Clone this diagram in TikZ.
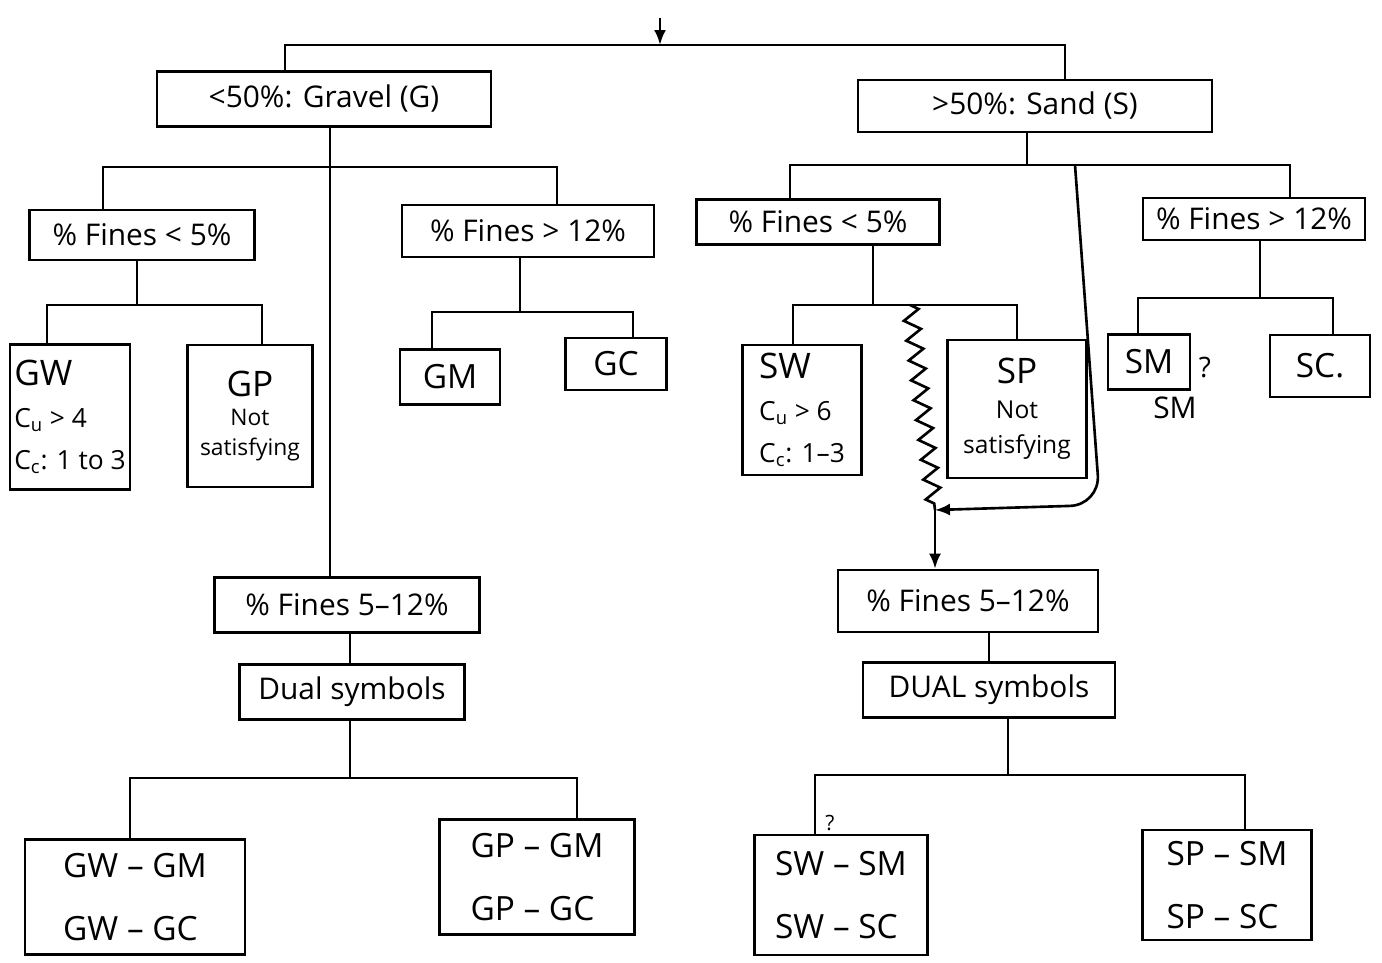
\documentclass[tikz,border=0pt]{standalone}
\usepackage{fontspec}
\setmainfont{Open Sans}
\usetikzlibrary{positioning,arrows.meta,calc,decorations.pathmorphing}

\begin{document}
\begin{tikzpicture}[
  x=0.02cm, y=-0.02cm,
  box/.style={draw=black,line width=1.5pt,inner sep=2pt,align=center,font=\fontsize{17}{21}\selectfont},
  tallbox/.style={box,align=left,font=\fontsize{15}{24}\selectfont},
  pairbox/.style={box,align=left,font=\fontsize{19}{36}\selectfont},
  note/.style={inner sep=1pt,font=\fontsize{16}{18}\selectfont},
  link/.style={line width=1.5pt,black},
  arrow/.style={-{Latex[length=3mm,width=2.4mm]},line width=1.5pt,black},
  zigzagline/.style={link,decorate,decoration={zigzag,amplitude=1.6mm,segment length=4mm}}
]
\useasboundingbox[fill=white] (0,0) rectangle (1382,963);
% first split
\node[box, minimum width=6.68cm, minimum height=1.1cm] (gravel) at (324,99) {<50\%: Gravel (G)};
\node[box, minimum width=7.08cm, minimum height=1.04cm] (sand) at (1035,106) {>50\%: Sand (S)};
% gravel side
\node[box, minimum width=4.5cm, minimum height=1.0cm] (gfinelow) at (142,235) {\% Fines < 5\%};
\node[box, minimum width=5.04cm, minimum height=1.04cm] (gfinehigh) at (528,231) {\% Fines > 12\%};
\node[tallbox, minimum width=2.4cm, minimum height=2.9cm] (gw) at (70,417) {{\fontsize{20}{24}\selectfont GW}\\C\textsubscript{u} > 4\\C\textsubscript{c}: 1 to 3};
\node[box, minimum width=2.5cm, minimum height=2.84cm, font=\fontsize{13}{17}\selectfont] (gp) at (250,416) {{\fontsize{20}{26}\selectfont GP}\\Not\\satisfying};
\node[box, minimum width=2.0cm, minimum height=1.1cm, font=\fontsize{19}{22}\selectfont] (gm) at (450,377) {GM};
\node[box, minimum width=2.02cm, minimum height=1.04cm, font=\fontsize{19}{22}\selectfont] (gc) at (616,364) {GC};
\node[box, minimum width=5.3cm, minimum height=1.1cm] (gfinemid) at (347,605) {\% Fines 5--12\%};
\node[box, minimum width=4.5cm, minimum height=1.1cm] (gdual) at (352,692) {Dual symbols};
\node[pairbox, minimum width=4.4cm, minimum height=2.3cm] (gwgm) at (135,897) {GW -- GM\\GW -- GC};
\node[pairbox, minimum width=3.9cm, minimum height=2.3cm] (gpgm) at (537,877) {GP -- GM\\GP -- GC};
% sand side
\node[box, minimum width=4.86cm, minimum height=0.9cm] (sfinelow) at (818,222) {\% Fines < 5\%};
\node[box, minimum width=4.44cm, minimum height=0.84cm] (sfinehigh) at (1254,219) {\% Fines > 12\%};
\node[tallbox, minimum width=2.38cm, minimum height=2.6cm] (sw) at (802,410) {{\fontsize{20}{24}\selectfont SW}\\C\textsubscript{u} > 6\\C\textsubscript{c}: 1--3};
\node[box, minimum width=2.78cm, minimum height=2.76cm, font=\fontsize{14}{20}\selectfont] (sp) at (1017,409) {{\fontsize{20}{26}\selectfont SP}\\Not\\satisfying};
\node[box, minimum width=1.64cm, minimum height=1.1cm, font=\fontsize{19}{22}\selectfont] (sm) at (1149,362) {SM};
\node[box, minimum width=2.0cm, minimum height=1.24cm, font=\fontsize{19}{22}\selectfont] (sc) at (1320,366) {SC.};
\node[note] (smquery) at (1205,368) {?};
\node[note, font=\fontsize{17}{20}\selectfont] (smnote) at (1175,408) {SM};
\node[box, minimum width=5.2cm, minimum height=1.24cm] (sfinemid) at (968,601) {\% Fines 5--12\%};
\node[box, minimum width=5.04cm, minimum height=1.1cm] (sdual) at (989,690) {DUAL symbols};
\node[pairbox, minimum width=3.46cm, minimum height=2.4cm] (swsm) at (841,895) {SW -- SM\\SW -- SC};
\node[pairbox, minimum width=3.38cm, minimum height=2.2cm] (spsm) at (1227,885) {SP -- SM\\SP -- SC};
\node[note, font=\fontsize{12}{14}\selectfont] (swquery) at (830,823) {?};
% junctions
\coordinate (start) at (660,18);
\coordinate (top) at (660,45);
\coordinate (topL) at (285,45);
\coordinate (topR) at (1065,45);
\coordinate (gM) at (330,167);
\coordinate (gL) at (103,167);
\coordinate (gR) at (557,167);
\coordinate (glM) at (137,305);
\coordinate (glL) at (47,305);
\coordinate (glR) at (262,305);
\coordinate (ghM) at (520,312);
\coordinate (ghL) at (432,312);
\coordinate (ghR) at (633,312);
\coordinate (gdM) at (350,778);
\coordinate (gdL) at (130,778);
\coordinate (gdR) at (577,778);
\coordinate (sM) at (1027,165);
\coordinate (sL) at (790,165);
\coordinate (sR) at (1290,165);
\coordinate (sS) at (1075,165);
\coordinate (sbend) at (1100,505);
\coordinate (sjoin) at (935,510);
\coordinate (slM) at (873,305);
\coordinate (slL) at (793,305);
\coordinate (slR) at (1017,305);
\coordinate (szig) at (910,305);
\coordinate (shM) at (1260,298);
\coordinate (shL) at (1138,298);
\coordinate (shR) at (1333,298);
\coordinate (sdM) at (1008,775);
\coordinate (sdL) at (815,775);
\coordinate (sdR) at (1245,775);
% connectors
\draw[arrow] (start) -- (top);
\draw[link] (gravel.north -| topL) |- (topR) -- (sand.north -| topR);
\draw[link] (gravel.south -| gM) -- (gM);
\draw[link] (gfinelow.north -| gL) |- (gR) -- (gfinehigh.north -| gR);
\draw[link] (gM) -- (gfinemid.north -| gM);
\draw[link] (gfinelow.south -| glM) -- (glM);
\draw[link] (gw.north -| glL) |- (glR) -- (gp.north -| glR);
\draw[link] (gfinehigh.south -| ghM) -- (ghM);
\draw[link] (gm.north -| ghL) |- (ghR) -- (gc.north -| ghR);
\draw[link] (gfinemid.south -| gdM) -- (gdual.north -| gdM);
\draw[link] (gdual.south -| gdM) -- (gdM);
\draw[link] (gwgm.north -| gdL) |- (gdR) -- (gpgm.north -| gdR);
\draw[link] (sand.south -| sM) -- (sM);
\draw[link] (sfinelow.north -| sL) |- (sR) -- (sfinehigh.north -| sR);
\draw[arrow, rounded corners=6mm] (sS) -- (sbend) -- (sjoin);
\draw[zigzagline] (szig) -- (sjoin);
\draw[arrow] (sjoin) -- (sfinemid.north -| sjoin);
\draw[link] (sfinelow.south -| slM) -- (slM);
\draw[link] (sw.north -| slL) |- (slR) -- (sp.north -| slR);
\draw[link] (sfinehigh.south -| shM) -- (shM);
\draw[link] (sm.north -| shL) |- (shR) -- (sc.north -| shR);
\draw[link] (sfinemid.south -| sdual) -- (sdual);
\draw[link] (sdual.south -| sdM) -- (sdM);
\draw[link] (swsm.north -| sdL) |- (sdR) -- (spsm.north -| sdR);
\end{tikzpicture}
\end{document}
